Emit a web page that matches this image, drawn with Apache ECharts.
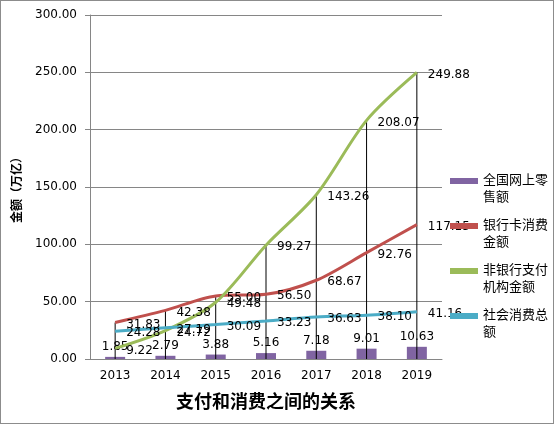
<!DOCTYPE html>
<html>
<head>
<meta charset="utf-8">
<script src="https://cdn.jsdelivr.net/npm/echarts@6/dist/echarts.min.js"></script>
<style>
  html, body { margin: 0; padding: 0; background: #fff; }
  #chart { width: 554px; height: 424px; box-sizing: border-box; border: 1px solid #8c8c8c; }
</style>
</head>
<body>
<div id="chart"></div>
<script>
// years on the x axis
var years = ['2013', '2014', '2015', '2016', '2017', '2018', '2019'];

// 全国网上零售额 (bars)
var onlineRetail = [1.85, 2.79, 3.88, 5.16, 7.18, 9.01, 10.63];
// 银行卡消费金额
var bankCard = [31.83, 42.38, 55.00, 56.50, 68.67, 92.76, 117.15];
// 非银行支付机构金额
var nonBank = [9.22, 24.72, 49.48, 99.27, 143.26, 208.07, 249.88];
// 社会消费总额
var socialTotal = [24.28, 27.19, 30.09, 33.23, 36.63, 38.10, 41.16];

var seriesNames = ['全国网上零售额', '银行卡消费金额', '非银行支付机构金额', '社会消费总额'];
var legendText = ['全国网上零\n售额', '银行卡消费\n金额', '非银行支付\n机构金额', '社会消费总\n额'];

// drop lines go from the axis up to the highest point in each year
var dropTop = years.map(function (y, i) {
    return Math.max(onlineRetail[i], bankCard[i], nonBank[i], socialTotal[i]);
});

var fontFamily = '"DejaVu Sans", "Noto Sans CJK SC", sans-serif';
var legendIcon = 'path://M0,6H28V12H0Z M0,0L0,0 M28,34L28,34';

var chart = echarts.init(document.getElementById('chart'));

function lineLabel() {
    return {
        show: true,
        position: 'right',
        distance: 11,
        offset: [0, 2],
        color: '#000',
        fontSize: 12,
        fontFamily: fontFamily,
        formatter: function (p) { return p.value.toFixed(2); }
    };
}

function lineSeries(name, data, color) {
    return {
        name: name,
        type: 'line',
        data: data,
        smooth: 0.3,
        symbol: 'circle',
        symbolSize: 0,
        showSymbol: true,
        z: 3,
        color: color,
        itemStyle: { color: color },
        lineStyle: { width: 3, color: color },
        label: lineLabel()
    };
}

var option = {
    animation: false,
    textStyle: { fontFamily: fontFamily },
    grid: { left: 89, right: 111, top: 14, bottom: 64 },
    legend: {
        orient: 'vertical',
        left: 444,
        top: 166,
        itemWidth: 28,
        itemHeight: 34,
        itemGap: 11,
        selectedMode: false,
        formatter: function (name) { return legendText[seriesNames.indexOf(name)]; },
        textStyle: { fontSize: 13, lineHeight: 17, color: '#000', fontFamily: fontFamily },
        data: seriesNames.map(function (n) { return { name: n, icon: legendIcon }; })
    },
    xAxis: {
        type: 'category',
        data: years,
        name: '支付和消费之间的关系',
        nameLocation: 'middle',
        nameGap: 35,
        nameTextStyle: { fontSize: 18, fontWeight: 'bold', color: '#000', fontFamily: fontFamily },
        axisLine: { lineStyle: { color: '#868686' } },
        axisTick: { show: false },
        axisLabel: { color: '#000', fontSize: 12, margin: 11 }
    },
    yAxis: {
        type: 'value',
        min: 0,
        max: 300,
        interval: 50,
        name: '金额（万亿）',
        nameLocation: 'middle',
        nameGap: 62,
        nameTextStyle: { fontSize: 12, fontWeight: 'bold', color: '#000', fontFamily: fontFamily },
        axisLine: { show: true, lineStyle: { color: '#868686' } },
        axisTick: { show: true, length: 5, lineStyle: { color: '#868686' } },
        axisLabel: {
            color: '#000',
            fontSize: 12,
            margin: 13,
            formatter: function (v) { return v.toFixed(2); }
        },
        splitLine: { lineStyle: { color: '#868686' } }
    },
    series: [
        {
            name: seriesNames[0],
            type: 'bar',
            data: onlineRetail,
            barWidth: 20,
            itemStyle: { color: '#8064A2' },
            z: 1,
            label: {
                show: true,
                position: 'top',
                distance: 4,
                color: '#000',
                fontSize: 12,
                formatter: function (p) { return p.value.toFixed(2); }
            }
        },
        {
            name: 'drop',
            type: 'custom',
            data: dropTop,
            z: 2,
            silent: true,
            renderItem: function (params, api) {
                var a = api.coord([api.value(0), 0]);
                var b = api.coord([api.value(0), api.value(1)]);
                return {
                    type: 'line',
                    shape: { x1: a[0], y1: a[1], x2: b[0], y2: b[1] },
                    style: { stroke: '#000', lineWidth: 1 }
                };
            },
            encode: { x: 0, y: 1 }
        },
        lineSeries(seriesNames[1], bankCard, '#C0504D'),
        lineSeries(seriesNames[2], nonBank, '#9BBB59'),
        lineSeries(seriesNames[3], socialTotal, '#4BACC6')
    ]
};

chart.setOption(option);
window.onresize = chart.resize;
</script>
</body>
</html>
